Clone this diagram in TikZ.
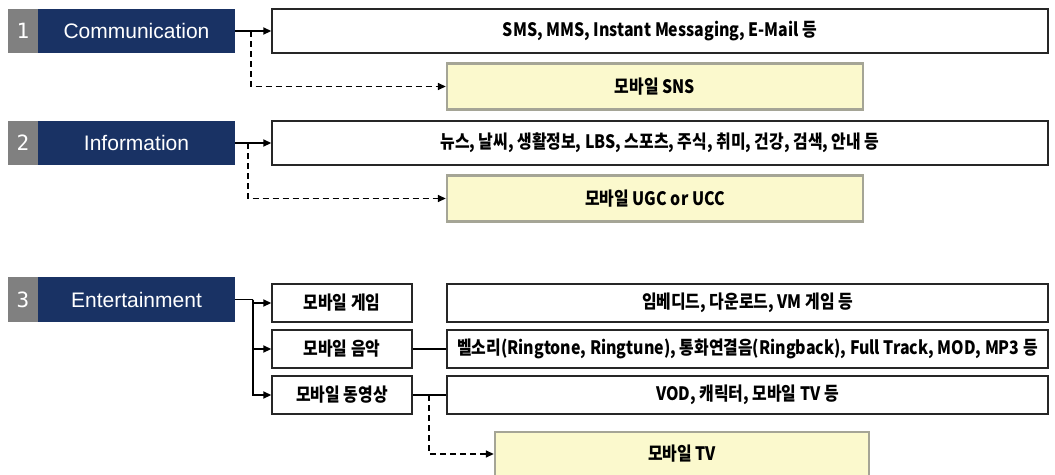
\documentclass[tikz,border=0pt]{standalone}
\usepackage{fontspec}
\setmainfont{Liberation Sans}
\newfontfamily\krfont{Noto Sans CJK KR}[FakeStretch=0.86]
\newfontfamily\numfont{DejaVu Sans Mono}
\usepackage{xcolor}
\definecolor{darknavy}{RGB}{25,50,100}
\definecolor{numgray}{RGB}{128,128,128}
\definecolor{paleyellow}{RGB}{251,249,205}
\definecolor{framegray}{RGB}{165,165,150}
\usetikzlibrary{arrows.meta}

\begin{document}
\begin{tikzpicture}[x=1pt,y=-1pt,
  num/.style={fill=numgray,text=white,minimum width=30pt,minimum height=44pt,inner sep=0pt,
    font=\numfont\fontsize{21}{21}\selectfont},
  cat/.style={fill=darknavy,text=white,minimum width=197pt,minimum height=44pt,inner sep=0pt,
    font=\fontsize{21}{21}\selectfont},
  desc/.style={draw=black!85,line width=1.4pt,fill=white,minimum height=44pt,inner sep=0pt,
    font=\krfont\bfseries\fontsize{18.5}{18.5}\selectfont},
  newbox/.style={desc,draw=framegray,line width=2.4pt,fill=paleyellow,minimum height=46pt},
  sub/.style={desc,minimum height=38pt},
  link/.style={line width=1.7pt},
  arr/.style={link,-{Triangle[length=8pt,width=7pt]}},
  dsh/.style={arr,line width=1.5pt,dash pattern=on 6pt off 4pt}
  ]
  \useasboundingbox (0,0) rectangle (1055,474);

  \node[num] (n1) at (23,31) {1};
  \node[cat] (c1) at (136.5,31) {Communication};
  \node[desc,minimum width=776pt] (d1) at (660,31) {SMS, MMS, Instant Messaging, E-Mail 등};
  \node[newbox,minimum width=416pt] (s1) at (655,86.5) {모바일 SNS};
  \coordinate (b1) at (251,31);
  \draw[arr] (c1) -- (d1);
  \draw[dsh] (b1) |- (s1);

  \node[num] (n2) at (23,143) {2};
  \node[cat] (c2) at (136.5,143) {Information};
  \node[desc,minimum width=776pt] (d2) at (660,143) {뉴스, 날씨, 생활정보, LBS, 스포츠, 주식, 취미, 건강, 검색, 안내 등};
  \node[newbox,minimum width=416pt] (s2) at (655,198.5) {모바일 UGC or UCC};
  \coordinate (b2) at (248,143);
  \draw[arr] (c2) -- (d2);
  \draw[dsh] (b2) |- (s2);

  \node[num,minimum height=45pt] (n3) at (23,299.5) {3};
  \node[cat,minimum height=45pt] (c3) at (136.5,299.5) {Entertainment};
  \node[sub,minimum width=140pt] (g3) at (342,303) {모바일 게임};
  \node[sub,minimum width=140pt] (m3) at (342,349) {모바일 음악};
  \node[sub,minimum width=140pt] (v3) at (342,395) {모바일 동영상};
  \node[sub,minimum width=601pt] (gr3) at (747.5,303) {임베디드, 다운로드, VM 게임 등};
  \node[sub,minimum width=601pt] (mr3) at (747.5,349) {벨소리(Ringtone, Ringtune), 통화연결음(Ringback), Full Track, MOD, MP3 등};
  \node[sub,minimum width=601pt] (vr3) at (747.5,395) {VOD, 캐릭터, 모바일 TV 등};
  \node[newbox,minimum width=374pt,minimum height=44pt] (tv) at (682,454) {모바일 TV};
  \coordinate (j3) at (253,299.5);
  \coordinate (b3) at (429,395);
  \draw[link] (c3) -- (j3);
  \draw[arr] (j3) |- (g3);
  \draw[arr] (j3) |- (m3);
  \draw[arr] (j3) |- (v3);
  \draw[link] (m3) -- (mr3);
  \draw[link] (v3) -- (vr3);
  \draw[dsh] (b3) |- (tv);
\end{tikzpicture}
\end{document}
